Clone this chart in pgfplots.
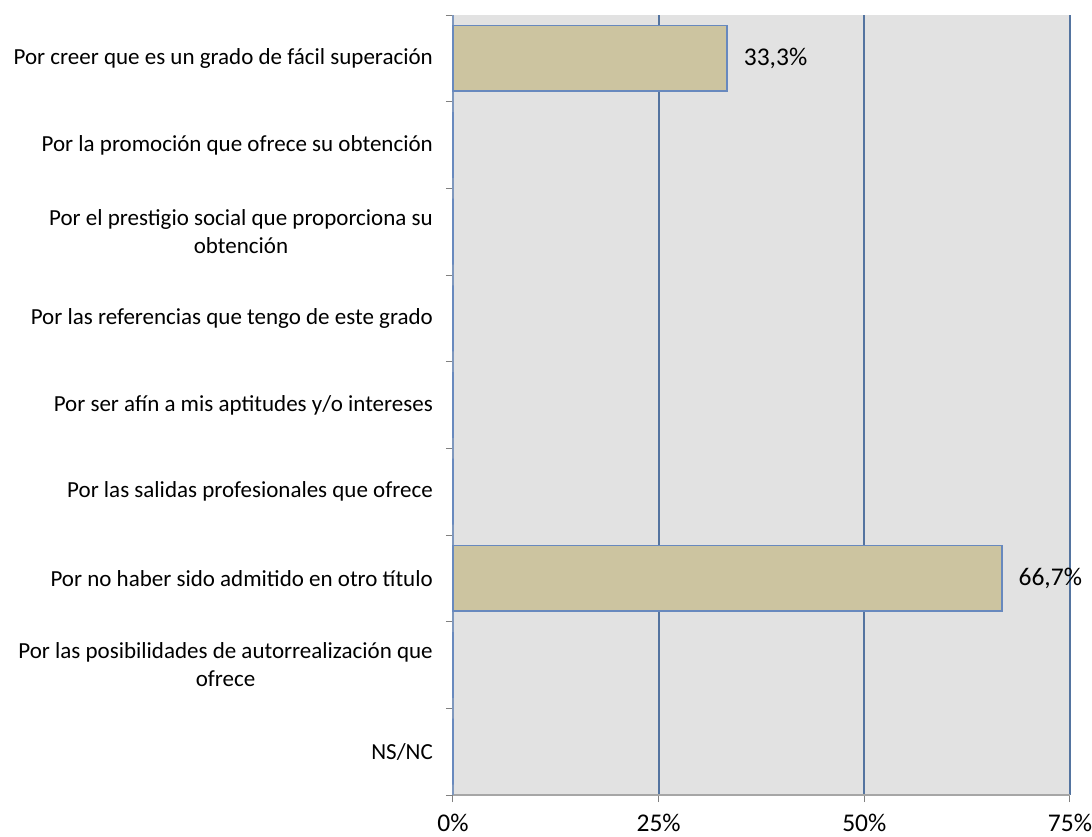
\documentclass[border=0pt]{standalone}
\usepackage{pgfplots}
\pgfplotsset{compat=1.18}
\usepackage{fontspec}
\setmainfont{Carlito}
\definecolor{bgray}{HTML}{E2E2E2}
\definecolor{gridc}{HTML}{5474A0}
\definecolor{barfill}{HTML}{CCC4A0}
\definecolor{barline}{HTML}{6889BE}
\definecolor{yaxc}{HTML}{7F98BE}
\definecolor{xaxc}{HTML}{A6A6A6}
\begin{document}
\fontsize{23bp}{28bp}\selectfont
\begin{tikzpicture}
\path[use as bounding box] (-453bp,-42bp) rectangle (639bp,795bp);
\begin{axis}[
  at={(0,0)}, anchor=south west,
  scale only axis, width=617bp, height=780bp,
  xmin=0, xmax=75, ymin=-0.5, ymax=8.5,
  y dir=reverse,
  axis x line*=bottom, axis y line*=left,
  axis background/.style={fill=bgray},
  x axis line style={draw=xaxc, line width=1.2bp, -},
  y axis line style={draw=yaxc, line width=1.5bp, -},
  xtick={0,25,50,75},
  xticklabels={0\%,25\%,50\%,75\%},
  minor xtick={0,25,50,75},
  xmajorgrids,
  major x grid style={draw=gridc, line width=1.8bp},
  major tick length=0pt,
  minor tick length=7bp,
  tick align=outside,
  tick style={draw=gray, line width=1bp},
  xticklabel style={font=\fontsize{25.5bp}{30bp}\selectfont, inner sep=0pt, yshift=-18.5bp, anchor=north},
  ytick={0,...,8},
  minor ytick={-0.5,0.5,...,8.5},
  yticklabel style={font=\fontsize{23bp}{28bp}\selectfont, align=center, inner sep=0pt, xshift=-20bp, anchor=east},
  yticklabels={
    Por creer que es un grado de fácil superación,
    Por la promoción que ofrece su obtención,
    {Por el prestigio social que proporciona su\\obtención},
    Por las referencias que tengo de este grado,
    Por ser afín a mis aptitudes y/o intereses,
    Por las salidas profesionales que ofrece,
    Por no haber sido admitido en otro título,
    {Por las posibilidades de autorrealización que\\ofrece},
    NS/NC},
  xbar, bar width=0.76,
  nodes near coords,
  point meta=explicit symbolic,
  every node near coord/.append style={font=\fontsize{25.5bp}{30bp}\selectfont, inner sep=0pt, xshift=16bp, anchor=west, text=black},
  clip=false,
]
\addplot[fill=barfill, draw=barline, line width=1.8bp] coordinates {
  (33.3,0) [{33,3\%}]
  (0,1) [{}]
  (0,2) [{}]
  (0,3) [{}]
  (0,4) [{}]
  (0,5) [{}]
  (66.7,6) [{66,7\%}]
  (0,7) [{}]
  (0,8) [{}]
};
\end{axis}
\end{tikzpicture}
\end{document}
